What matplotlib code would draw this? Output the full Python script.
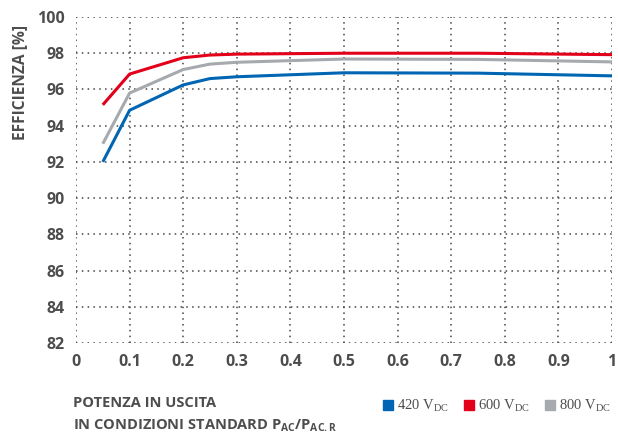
import matplotlib
matplotlib.use('Agg')
from matplotlib import pyplot as plt
from matplotlib.lines import Line2D

# data
x = [0.05, 0.1, 0.2, 0.25, 0.3, 0.5, 0.75, 1.0]
eff_420 = [92.0, 94.85, 96.25, 96.6, 96.7, 96.92, 96.9, 96.75]
eff_600 = [95.15, 96.85, 97.75, 97.9, 97.95, 98.0, 98.0, 97.92]
eff_800 = [93.0, 95.8, 97.1, 97.4, 97.5, 97.68, 97.66, 97.52]
labels = ['420', '600', '800']
colors = ['#0066b3', '#e2001a', '#a6aaae']

txt = '#4d4d4d'
plt.rcParams['font.family'] = 'Open Sans'

fig = plt.figure(figsize=(6.18, 4.34), dpi=100)
ax = fig.add_axes([76/618, 1-343/434, (612-76)/618, (343-17)/434])

for ys, c in zip([eff_420, eff_600, eff_800], colors):
    ax.plot(x, ys, color=c, lw=2.2, solid_capstyle='butt')

ax.set_xlim(0, 1)
ax.set_ylim(82, 100)
ax.set_xticks([i/10 for i in range(11)])
ax.set_xticklabels(['0'] + ['0.%d' % i for i in range(1, 10)] + ['1'])
ax.set_yticks(range(82, 101, 2))
for s in ax.spines.values():
    s.set_visible(False)
ax.grid(True, ls=(0, (1, 2.8)), color='#444444', lw=1.1)
ax.set_axisbelow(True)
ax.tick_params(length=0, labelsize=11.5, labelcolor=txt, pad=8)
for t in ax.get_xticklabels() + ax.get_yticklabels():
    t.set_fontweight('bold')

fig.text(20/618, 1-82/434, 'EFFICIENZA [%]', rotation=90, ha='center', va='center',
         fontsize=11.2, fontweight='bold', color=txt)

fig.text(73/618, 1-403/434, 'POTENZA IN USCITA', ha='left', va='center',
         fontsize=10.5, fontweight='bold', color=txt)
fig.text(73/618, 1-426/434,
         r'IN CONDIZIONI STANDARD P$_{\mathregular{AC}}$/P$_{\mathregular{AC.R}}$',
         ha='left', va='center', fontsize=10.5, fontweight='bold', color=txt)

handles = [Line2D([], [], ls='none', marker='s', ms=7.5, color=c) for c in colors]
leg_labels = [r'%s V$_{\mathregular{DC}}$' % l for l in labels]
leg = fig.legend(handles, leg_labels, loc='center left', ncol=3, frameon=False,
                 bbox_to_anchor=(375/618, 1-406/434), handletextpad=0.1,
                 columnspacing=0.9, handlelength=1.0, borderaxespad=0,
                 prop={'family': 'Liberation Serif', 'size': 10.5})
for t in leg.get_texts():
    t.set_color(txt)

fig.savefig('out.png', dpi=100)
